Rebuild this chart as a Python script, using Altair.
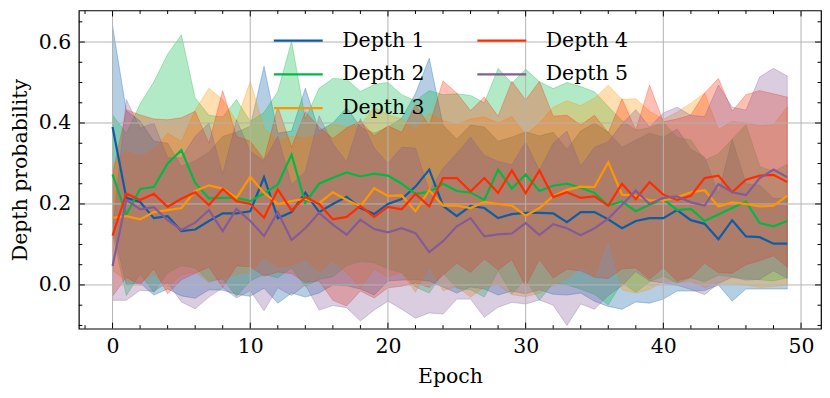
import altair as alt
import pandas as pd

epochs = list(range(50))
depth_names = ["Depth 1", "Depth 2", "Depth 3", "Depth 4", "Depth 5"]
colors = ["#0C5DA5", "#00B945", "#FF9500", "#FF2C00", "#845B97"]

d1_mean = [0.39, 0.215, 0.205, 0.165, 0.17, 0.133, 0.137, 0.158, 0.177, 0.177,
           0.182, 0.266, 0.165, 0.18, 0.228, 0.18, 0.2, 0.218, 0.19, 0.175,
           0.2, 0.212, 0.243, 0.285, 0.195, 0.17, 0.195, 0.19, 0.165, 0.175,
           0.178, 0.178, 0.177, 0.155, 0.18, 0.18, 0.162, 0.14, 0.158, 0.165,
           0.165, 0.185, 0.16, 0.151, 0.113, 0.16, 0.12, 0.118, 0.102, 0.102]
d1_std = [0.25, 0.215, 0.2, 0.19, 0.18, 0.16, 0.17, 0.17, 0.19, 0.2,
          0.21, 0.274, 0.21, 0.2, 0.258, 0.2, 0.2, 0.22, 0.2, 0.2,
          0.19, 0.2, 0.23, 0.275, 0.2, 0.19, 0.2, 0.2, 0.19, 0.19,
          0.2, 0.19, 0.2, 0.18, 0.2, 0.22, 0.215, 0.2, 0.2, 0.21,
          0.2, 0.2, 0.175, 0.165, 0.113, 0.2, 0.13, 0.128, 0.112, 0.112]

d2_mean = [0.273, 0.174, 0.237, 0.242, 0.30, 0.333, 0.252, 0.214, 0.215, 0.215,
           0.207, 0.226, 0.248, 0.322, 0.203, 0.25, 0.265, 0.278, 0.268, 0.275,
           0.27, 0.25, 0.225, 0.23, 0.25, 0.232, 0.228, 0.21, 0.285, 0.238,
           0.273, 0.232, 0.245, 0.25, 0.24, 0.227, 0.196, 0.206, 0.182, 0.198,
           0.212, 0.185, 0.188, 0.158, 0.174, 0.19, 0.206, 0.153, 0.145, 0.158]
d2_std = [0.147, 0.2, 0.21, 0.26, 0.27, 0.285, 0.21, 0.205, 0.2, 0.243,
          0.197, 0.2, 0.23, 0.28, 0.207, 0.236, 0.245, 0.23, 0.21, 0.22,
          0.23, 0.22, 0.23, 0.25, 0.22, 0.24, 0.24, 0.24, 0.25, 0.26,
          0.26, 0.27, 0.24, 0.25, 0.25, 0.25, 0.245, 0.2, 0.2, 0.19,
          0.19, 0.18, 0.17, 0.15, 0.15, 0.17, 0.19, 0.14, 0.135, 0.14]

d3_mean = [0.166, 0.17, 0.162, 0.18, 0.185, 0.19, 0.232, 0.246, 0.238, 0.215,
           0.267, 0.228, 0.20, 0.207, 0.213, 0.202, 0.229, 0.21, 0.194, 0.239,
           0.22, 0.221, 0.182, 0.234, 0.196, 0.196, 0.19, 0.205, 0.2, 0.196,
           0.171, 0.19, 0.219, 0.235, 0.243, 0.242, 0.303, 0.223, 0.22, 0.209,
           0.209, 0.217, 0.229, 0.234, 0.194, 0.204, 0.2, 0.194, 0.196, 0.22]
d3_std = [0.13, 0.16, 0.156, 0.154, 0.19, 0.165, 0.2, 0.24, 0.22, 0.19,
          0.236, 0.16, 0.155, 0.16, 0.15, 0.17, 0.17, 0.18, 0.2, 0.2,
          0.2, 0.19, 0.2, 0.19, 0.21, 0.2, 0.22, 0.21, 0.2, 0.22,
          0.2, 0.21, 0.22, 0.22, 0.2, 0.22, 0.19, 0.235, 0.24, 0.22,
          0.2, 0.21, 0.22, 0.24, 0.19, 0.2, 0.2, 0.2, 0.2, 0.22]

d4_mean = [0.122, 0.226, 0.21, 0.225, 0.193, 0.213, 0.229, 0.197, 0.237, 0.207,
           0.20, 0.166, 0.236, 0.184, 0.217, 0.2, 0.162, 0.168, 0.195, 0.168,
           0.193, 0.187, 0.225, 0.194, 0.264, 0.264, 0.231, 0.264, 0.227, 0.283,
           0.227, 0.283, 0.217, 0.229, 0.215, 0.219, 0.196, 0.25, 0.212, 0.254,
           0.223, 0.21, 0.22, 0.264, 0.27, 0.229, 0.26, 0.27, 0.272, 0.254]
d4_std = [0.15, 0.207, 0.21, 0.185, 0.215, 0.2, 0.2, 0.153, 0.243, 0.16,
          0.155, 0.144, 0.204, 0.156, 0.211, 0.19, 0.2, 0.22, 0.21, 0.2,
          0.2, 0.19, 0.22, 0.2, 0.24, 0.21, 0.2, 0.2, 0.19, 0.22,
          0.23, 0.22, 0.2, 0.19, 0.18, 0.2, 0.18, 0.21, 0.17, 0.24,
          0.18, 0.2, 0.2, 0.21, 0.24, 0.2, 0.21, 0.21, 0.2, 0.21]

d5_mean = [0.047, 0.21, 0.187, 0.192, 0.16, 0.136, 0.154, 0.185, 0.133, 0.188,
           0.158, 0.121, 0.18, 0.111, 0.14, 0.178, 0.149, 0.124, 0.161, 0.138,
           0.13, 0.14, 0.128, 0.081, 0.108, 0.145, 0.165, 0.12, 0.125, 0.127,
           0.153, 0.123, 0.15, 0.14, 0.123, 0.14, 0.164, 0.198, 0.233, 0.2,
           0.215, 0.219, 0.204, 0.196, 0.249, 0.229, 0.222, 0.264, 0.285, 0.266]
d5_std = [0.085, 0.248, 0.2, 0.208, 0.154, 0.178, 0.213, 0.215, 0.14, 0.22,
          0.172, 0.185, 0.187, 0.137, 0.14, 0.24, 0.2, 0.18, 0.25, 0.2,
          0.17, 0.2, 0.21, 0.15, 0.18, 0.18, 0.2, 0.2, 0.18, 0.17,
          0.2, 0.16, 0.2, 0.24, 0.17, 0.2, 0.19, 0.2, 0.2, 0.19,
          0.21, 0.22, 0.215, 0.22, 0.245, 0.21, 0.21, 0.25, 0.25, 0.25]

x_major = [0, 10, 20, 30, 40, 50]
x_minor = [-2, 2, 4, 6, 8, 12, 14, 16, 18, 22, 24, 26, 28, 32, 34, 36, 38, 42, 44, 46, 48]
y_major = [0.0, 0.2, 0.4, 0.6]
y_minor = [-0.1, -0.05, 0.05, 0.1, 0.15, 0.25, 0.3, 0.35, 0.45, 0.5, 0.55, 0.65]

means = [d1_mean, d2_mean, d3_mean, d4_mean, d5_mean]
stds = [d1_std, d2_std, d3_std, d4_std, d5_std]

rows = []
for name, col, m, s in zip(depth_names, colors, means, stds):
    for e, mv, sv in zip(epochs, m, s):
        rows.append({"epoch": e, "depth": name, "hex": col, "mean": mv,
                     "lower": mv - sv, "upper": mv + sv})
df = pd.DataFrame(rows)

W, H = 744, 319
FONT = "DejaVu Serif"
FS = 20.5

xscale = alt.Scale(domain=[-2.45, 51.45], nice=False, zero=False)
yscale = alt.Scale(domain=[-0.108, 0.678], nice=False, zero=False)
cscale = alt.Scale(domain=depth_names, range=colors)

xaxis = alt.Axis(values=x_major, format="d", title="Epoch", grid=False, ticks=False,
                 domain=False, labelPadding=8, titlePadding=9)
yaxis = alt.Axis(values=y_major, format=".1f", title="Depth probability", grid=False,
                 ticks=False, domain=False, labelPadding=8, titlePadding=8)

bands = alt.Chart(df).mark_area(fillOpacity=0.3, strokeOpacity=0.3, strokeWidth=1,
                                clip=True).encode(
    x=alt.X("epoch:Q", scale=xscale, axis=xaxis),
    y=alt.Y("lower:Q", scale=yscale, axis=yaxis),
    y2="upper:Q",
    fill=alt.Fill("hex:N", scale=None),
    stroke=alt.Stroke("hex:N", scale=None),
    detail="depth:N",
)

xgrid = alt.Chart(pd.DataFrame({"v": x_major})).mark_rule(
    color="#b4b4b4", strokeWidth=1).encode(x=alt.X("v:Q", scale=xscale, axis=xaxis))
ygrid = alt.Chart(pd.DataFrame({"v": y_major})).mark_rule(
    color="#b4b4b4", strokeWidth=1).encode(y=alt.Y("v:Q", scale=yscale, axis=yaxis))

lines = alt.Chart(df).mark_line(strokeWidth=2.2, clip=True).encode(
    x=alt.X("epoch:Q", scale=xscale, axis=xaxis),
    y=alt.Y("mean:Q", scale=yscale, axis=yaxis),
    color=alt.Color("depth:N", scale=cscale, legend=alt.Legend(
        title=None, orient="none", legendX=194, legendY=20, columns=2,
        values=depth_names,
        symbolType="stroke", symbolSize=2400, symbolStrokeWidth=2.2,
        clipHeight=20, rowPadding=13, columnPadding=51, labelOffset=18,
        labelFont=FONT, labelFontSize=FS, labelColor="black", padding=0,
    )),
)


def xticks(vals, length):
    d = pd.DataFrame({"v": vals})
    bot = alt.Chart(d).mark_rule(color="black", strokeWidth=1).encode(
        x=alt.X("v:Q", scale=xscale, axis=xaxis), y=alt.value(H), y2=alt.value(H - length))
    top = alt.Chart(d).mark_rule(color="black", strokeWidth=1).encode(
        x=alt.X("v:Q", scale=xscale, axis=xaxis), y=alt.value(0), y2=alt.value(length))
    return [bot, top]


def yticks(vals, length):
    d = pd.DataFrame({"v": vals})
    left = alt.Chart(d).mark_rule(color="black", strokeWidth=1).encode(
        y=alt.Y("v:Q", scale=yscale, axis=yaxis), x=alt.value(0), x2=alt.value(length))
    right = alt.Chart(d).mark_rule(color="black", strokeWidth=1).encode(
        y=alt.Y("v:Q", scale=yscale, axis=yaxis), x=alt.value(W), x2=alt.value(W - length))
    return [left, right]


tick_layers = xticks(x_major, 6) + xticks(x_minor, 3.5) + yticks(y_major, 6) + yticks(y_minor, 3.5)

chart = alt.layer(bands, xgrid, ygrid, lines, *tick_layers).properties(
    width=W, height=H, background="white",
    padding={"left": 2, "top": 1, "right": 0, "bottom": 0},
).configure_view(
    stroke="black", strokeWidth=1.2
).configure_axis(
    labelFont=FONT, labelFontSize=FS, labelColor="black",
    titleFont=FONT, titleFontSize=FS, titleColor="black", titleFontWeight="normal",
)

chart.save("out.html", embed_options={"renderer": "svg", "actions": False})
